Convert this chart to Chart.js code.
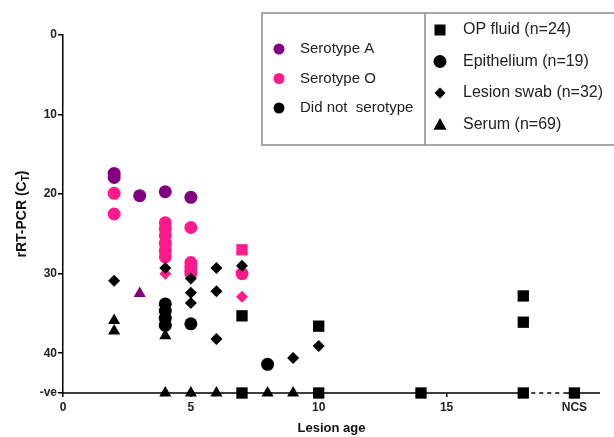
<!DOCTYPE html>
<html>
<head>
<meta charset="utf-8">
<script src="https://cdn.jsdelivr.net/npm/chart.js@4"></script>
<style>
  html, body { margin: 0; padding: 0; background: #fff; }
  #wrap { width: 614px; height: 437px; }
</style>
</head>
<body>
<div id="wrap"><canvas id="scatterChart" width="614" height="437"></canvas></div>
<script>
// -ve results are plotted on the bottom line
const NEG = 45;

const xTicks = [0, 5, 10, 15, 20];
const xTickLabels = ['0', '5', '10', '15', 'NCS'];
const yTicks = [0, 10, 20, 30, 40, NEG];
const yTickLabels = ['0', '10', '20', '30', '40', '-ve'];

// [lesion age, CT]
const opFluidBlack = [[7, 35.3], [7, NEG], [10, 36.6], [10, NEG], [14, NEG], [18, 32.8], [18, 36.1], [18, NEG], [20, NEG]];
const opFluidPink = [[7, 27.0]];
const epiPurple = [[2, 17.4], [2, 17.9], [3, 20.2], [4, 19.7], [5, 20.4]];
const epiPink = [[2, 19.9], [2, 22.5], [4, 23.6], [4, 24.4], [4, 25.2], [4, 26.2], [4, 27.1], [4, 27.9],
  [5, 24.2], [5, 28.6], [5, 29.1], [5, 29.6], [5, 30.0], [7, 30.0]];
const epiBlack = [[4, 33.8], [4, 34.7], [4, 35.6], [4, 36.5], [5, 36.3], [8, 41.4]];
const swabBlack = [[2, 30.9], [4, 29.3], [5, 30.6], [5, 32.4], [5, 33.7], [6, 29.3], [6, 32.2], [6, 38.2],
  [7, 29.0], [9, 40.6], [10, 39.1]];
const swabPink = [[4, 30.0], [7, 32.9]];
const serumBlack = [[2, 35.9], [2, 37.2], [4, 37.8], [4, NEG], [5, NEG], [6, NEG], [8, NEG], [9, NEG]];
const serumPurple = [[3, 32.5]];

const serotypeLabels = ['Serotype A', 'Serotype O', 'Did not  serotype'];
const sampleLabels = ['OP fluid (n=24)', 'Epithelium (n=19)', 'Lesion swab (n=32)', 'Serum (n=69)'];

const BLACK = '#000000';
const PURPLE = '#800080';
const PINK = '#ff1a8c';
const FONT = '"Liberation Sans", Arial, sans-serif';

function ds(points, shape, color, r) {
  return {
    data: points.map(p => ({ x: p[0], y: p[1] })),
    pointStyle: shape,
    pointRadius: r,
    pointHoverRadius: r,
    pointBorderWidth: 0,
    backgroundColor: color,
    borderColor: color,
    clip: false
  };
}

// axis line along -ve row, dashed between 18 and NCS
const axisLine = {
  id: 'axisLine',
  beforeDatasetsDraw(chart) {
    const { ctx, scales: { x, y } } = chart;
    const yy = y.getPixelForValue(NEG);
    ctx.save();
    ctx.strokeStyle = '#000';
    ctx.lineWidth = 1.5;
    ctx.beginPath();
    ctx.moveTo(x.getPixelForValue(0), yy);
    ctx.lineTo(x.getPixelForValue(18), yy);
    ctx.moveTo(x.getPixelForValue(19.6), yy);
    ctx.lineTo(x.right, yy);
    ctx.stroke();
    ctx.setLineDash([4, 4]);
    ctx.beginPath();
    ctx.moveTo(x.getPixelForValue(18), yy);
    ctx.lineTo(x.getPixelForValue(19.6), yy);
    ctx.stroke();
    ctx.restore();
  }
};

function marker(ctx, shape, cx, cy, r, color) {
  ctx.fillStyle = color;
  ctx.beginPath();
  if (shape === 'circle') {
    ctx.arc(cx, cy, r, 0, Math.PI * 2);
  } else if (shape === 'rect') {
    ctx.rect(cx - r, cy - r, 2 * r, 2 * r);
  } else if (shape === 'rectRot') {
    ctx.moveTo(cx, cy - r); ctx.lineTo(cx + r, cy); ctx.lineTo(cx, cy + r); ctx.lineTo(cx - r, cy);
  } else {
    ctx.moveTo(cx, cy - r); ctx.lineTo(cx + r, cy + r * 0.8); ctx.lineTo(cx - r, cy + r * 0.8);
  }
  ctx.closePath();
  ctx.fill();
}

const legendBox = {
  id: 'legendBox',
  afterDraw(chart) {
    const ctx = chart.ctx;
    ctx.save();
    ctx.fillStyle = '#fff';
    ctx.fillRect(262, 13, 360, 132);
    ctx.strokeStyle = '#8c8c8c';
    ctx.lineWidth = 1.5;
    ctx.strokeRect(262, 13, 360, 132);
    ctx.beginPath();
    ctx.moveTo(425, 13);
    ctx.lineTo(425, 145);
    ctx.stroke();

    ctx.font = '15px ' + FONT;
    ctx.textBaseline = 'middle';
    ctx.fillStyle = '#222';
    const dotColors = [PURPLE, PINK, BLACK];
    serotypeLabels.forEach((t, i) => {
      const yy = 49 + i * 29.5;
      marker(ctx, 'circle', 279, yy, 5.5, dotColors[i]);
      ctx.fillStyle = '#222';
      ctx.fillText(t, 300, yy);
    });
    const shapes = ['rect', 'circle', 'rectRot', 'triangle'];
    const sizes = [5.5, 6.5, 5.5, 6.5];
    ctx.font = '16px ' + FONT;
    sampleLabels.forEach((t, i) => {
      const yy = 30 + i * 31.5;
      marker(ctx, shapes[i], 440, yy, sizes[i], BLACK);
      ctx.fillStyle = '#222';
      ctx.fillText(t, 463, yy);
    });

    // y axis title with subscript T
    const y = chart.scales.y;
    const cy = (y.top + y.bottom) / 2;
    ctx.translate(22, cy);
    ctx.rotate(-Math.PI / 2);
    ctx.fillStyle = '#111';
    ctx.font = 'bold 14px ' + FONT;
    const main = 'rRT-PCR (C';
    const sub = 'T';
    const tail = ')';
    const w1 = ctx.measureText(main).width;
    ctx.font = 'bold 10px ' + FONT;
    const w2 = ctx.measureText(sub).width;
    ctx.font = 'bold 14px ' + FONT;
    const w3 = ctx.measureText(tail).width;
    let sx = -(w1 + w2 + w3) / 2;
    ctx.textBaseline = 'middle';
    ctx.fillText(main, sx, 0);
    ctx.font = 'bold 10px ' + FONT;
    ctx.fillText(sub, sx + w1, 4);
    ctx.font = 'bold 14px ' + FONT;
    ctx.fillText(tail, sx + w1 + w2, 0);
    ctx.restore();
  }
};

new Chart(document.getElementById('scatterChart'), {
  type: 'scatter',
  data: {
    datasets: [
      ds(serumBlack, 'triangle', BLACK, 7),
      ds(serumPurple, 'triangle', PURPLE, 7),
      ds(swabBlack, 'rectRot', BLACK, 6),
      ds(swabPink, 'rectRot', PINK, 6),
      ds(epiBlack, 'circle', BLACK, 6.5),
      ds(epiPurple, 'circle', PURPLE, 6.5),
      ds(epiPink, 'circle', PINK, 6.5),
      ds(opFluidBlack, 'rect', BLACK, 8),
      ds(opFluidPink, 'rect', PINK, 8)
    ]
  },
  options: {
    responsive: false,
    animation: false,
    events: [],
    layout: { padding: { top: 35, right: 14, left: 0, bottom: 0 } },
    plugins: { legend: { display: false }, tooltip: { enabled: false } },
    scales: {
      x: {
        type: 'linear',
        min: 0,
        max: 21,
        afterBuildTicks: s => { s.ticks = xTicks.map(v => ({ value: v })); },
        afterFit: s => { s.height = 44; },
        ticks: {
          callback: v => xTickLabels[xTicks.indexOf(v)],
          font: { family: FONT, size: 12, weight: 'bold' },
          color: '#222',
          padding: 3,
          maxRotation: 0
        },
        grid: { drawOnChartArea: false, drawTicks: true, tickLength: 4, color: '#000', lineWidth: 1.5 },
        border: { display: false },
        title: {
          display: true,
          text: 'Lesion age',
          font: { family: FONT, size: 13, weight: 'bold' },
          color: '#111',
          padding: { top: 0, bottom: 1 }
        }
      },
      y: {
        type: 'linear',
        reverse: true,
        min: 0,
        max: NEG,
        afterBuildTicks: s => { s.ticks = yTicks.map(v => ({ value: v })); },
        afterFit: s => { s.width = 63; },
        ticks: {
          callback: v => yTickLabels[yTicks.indexOf(v)],
          font: { family: FONT, size: 12, weight: 'bold' },
          color: '#222',
          padding: 1
        },
        grid: { drawOnChartArea: false, drawTicks: true, tickLength: 5, color: '#000', lineWidth: 1.5 },
        border: { display: true, color: '#000', width: 1.5 }
      }
    }
  },
  plugins: [axisLine, legendBox]
});
</script>
</body>
</html>
